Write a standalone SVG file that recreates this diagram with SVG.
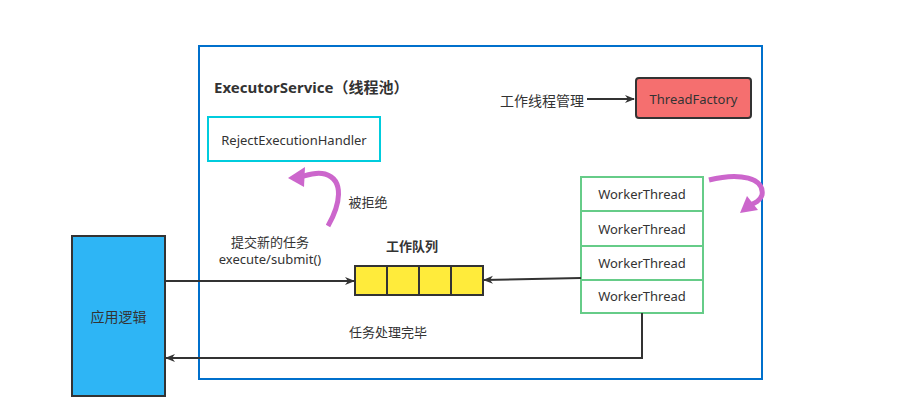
<svg xmlns="http://www.w3.org/2000/svg" width="909" height="411" viewBox="0 0 909 411">
<defs>
<style>
text{font-family:"Noto Sans","Noto Sans CJK SC",sans-serif;font-size:13px;fill:#333;}
.b{font-weight:bold;font-size:15px;}
.c{text-anchor:middle;dominant-baseline:central;}
.ln{fill:none;stroke:#333;stroke-width:2;}
.wt{fill:#fff;stroke:#66CC88;stroke-width:2;}
.q{fill:#FFEB3B;stroke:#333;stroke-width:2;}
.pp{fill:none;stroke:#CC66CC;stroke-width:5;}
</style>
<marker id="ah" viewBox="0 0 10 10" refX="9" refY="5" markerWidth="10" markerHeight="10" markerUnits="userSpaceOnUse" orient="auto"><path d="M0,1 L10,5 L0,9 L3,5 Z" fill="#333"/></marker>
</defs>
<rect width="909" height="411" fill="#fff"/>
<g id="executor">
<rect x="199" y="46" width="563" height="333" fill="none" stroke="#0070CC" stroke-width="2"/>
<text class="b" x="214" y="93">ExecutorService（线程池）</text>
</g>
<g id="reject">
<rect x="208" y="117" width="172" height="44" fill="#fff" stroke="#00CCDD" stroke-width="2"/>
<text class="c" x="294" y="140">RejectExecutionHandler</text>
</g>
<g id="factory">
<rect x="636" y="78" width="115" height="40" rx="3" fill="#F56F6F" stroke="#333" stroke-width="2"/>
<text class="c" x="693.5" y="99">ThreadFactory</text>
</g>
<g id="workers">
<rect class="wt" x="581" y="177" width="122" height="34"/>
<text class="c" x="642" y="194">WorkerThread</text>
<rect class="wt" x="581" y="211" width="122" height="35"/>
<text class="c" x="642" y="229">WorkerThread</text>
<rect class="wt" x="581" y="246" width="122" height="34"/>
<text class="c" x="642" y="263">WorkerThread</text>
<rect class="wt" x="581" y="280" width="122" height="33"/>
<text class="c" x="642" y="296">WorkerThread</text>
</g>
<g id="queue">
<rect class="q" x="355" y="266" width="32" height="29"/>
<rect class="q" x="387" y="266" width="32" height="29"/>
<rect class="q" x="419" y="266" width="32" height="29"/>
<rect class="q" x="451" y="266" width="32" height="29"/>
<text class="b c" x="412" y="246" style="font-size:13px">工作队列</text>
</g>
<g id="app">
<rect x="72" y="236" width="93" height="160" fill="#2EB5F5" stroke="#333" stroke-width="2"/>
<text class="c" x="118.5" y="316" style="font-size:14px">应用逻辑</text>
</g>
<g id="connectors">
<line class="ln" x1="587" y1="99" x2="634" y2="99" marker-end="url(#ah)"/>
<line class="ln" x1="165" y1="281" x2="354" y2="281" marker-end="url(#ah)"/>
<path class="ln" d="M581,278 L484,280" marker-end="url(#ah)"/>
<path class="ln" d="M642,313 L642,358 L166,358" marker-end="url(#ah)"/>
<path class="pp" d="M328,226 C340,205 345,180 325,174 C315,171 305,176 300,177"/>
<path d="M288,178 L305,167 L304,187 Z" fill="#CC66CC"/>
<path class="pp" d="M709,180 C740,172 765,178 762,195 C760,201 755,203 750,205"/>
<path d="M740,213 L747,196 L758,210 Z" fill="#CC66CC"/>
</g>
<g id="labels">
<text class="c" x="542" y="100" style="font-size:14px">工作线程管理</text>
<text class="c" x="368" y="202">被拒绝</text>
<text class="c" x="270" y="242">提交新的任务</text>
<text class="c" x="270" y="259">execute/submit()</text>
<text class="c" x="388" y="332">任务处理完毕</text>
</g>
</svg>
